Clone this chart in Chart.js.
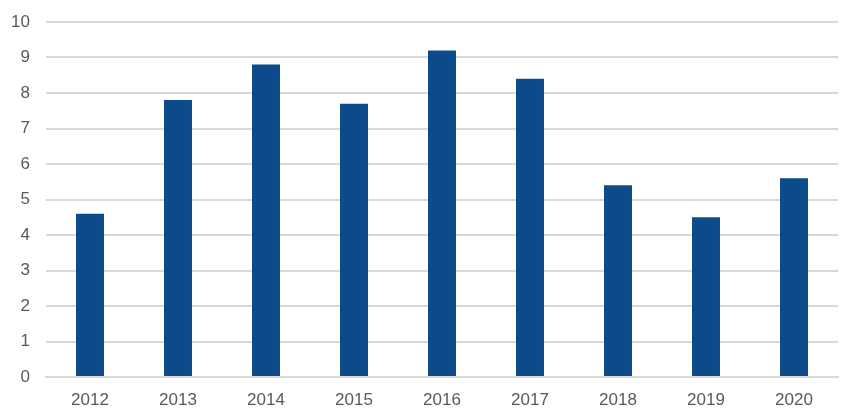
<!DOCTYPE html>
<html><head><meta charset="utf-8">
<script src="https://cdn.jsdelivr.net/npm/chart.js@4"></script>
<style>html,body{margin:0;padding:0;background:#fff}#w{width:857px;height:417px}</style>
</head><body><div id="w"><canvas id="c" width="857" height="417"></canvas></div>
<script>
const categories = ["2012","2013","2014","2015","2016","2017","2018","2019","2020"];
const values = [4.6, 7.8, 8.8, 7.7, 9.2, 8.4, 5.4, 4.5, 5.6];
const yTicks = [0,1,2,3,4,5,6,7,8,9,10];

new Chart(document.getElementById('c'), {
  type: 'bar',
  data: { labels: categories, datasets: [{ data: values, backgroundColor: '#0c4a8a', barPercentage: 0.318, categoryPercentage: 1 }] },
  options: {
    responsive: false, animation: false,
    layout: { padding: { top: 22, right: 19, left: 0, bottom: 0 } },
    plugins: { legend: { display: false }, tooltip: { enabled: false } },
    scales: {
      x: {
        grid: { display: false, drawTicks: false },
        border: { display: true, color: '#d9d9d9', width: 2 },
        ticks: { color: '#595959', font: { family: 'Liberation Sans, Arial', size: 17 }, padding: 13 },
        afterFit: s => { s.height = 40; }
      },
      y: {
        min: 0, max: 10,
        afterBuildTicks: s => { s.ticks = yTicks.map(v => ({ value: v })); },
        afterFit: s => { s.width = 46; s.paddingTop = 0; s.paddingBottom = 0; },
        grid: { color: '#d9d9d9', lineWidth: 2, drawTicks: false },
        border: { display: false },
        ticks: { color: '#595959', font: { family: 'Liberation Sans, Arial', size: 17 }, padding: 16 }
      }
    }
  }
});
</script></body></html>
